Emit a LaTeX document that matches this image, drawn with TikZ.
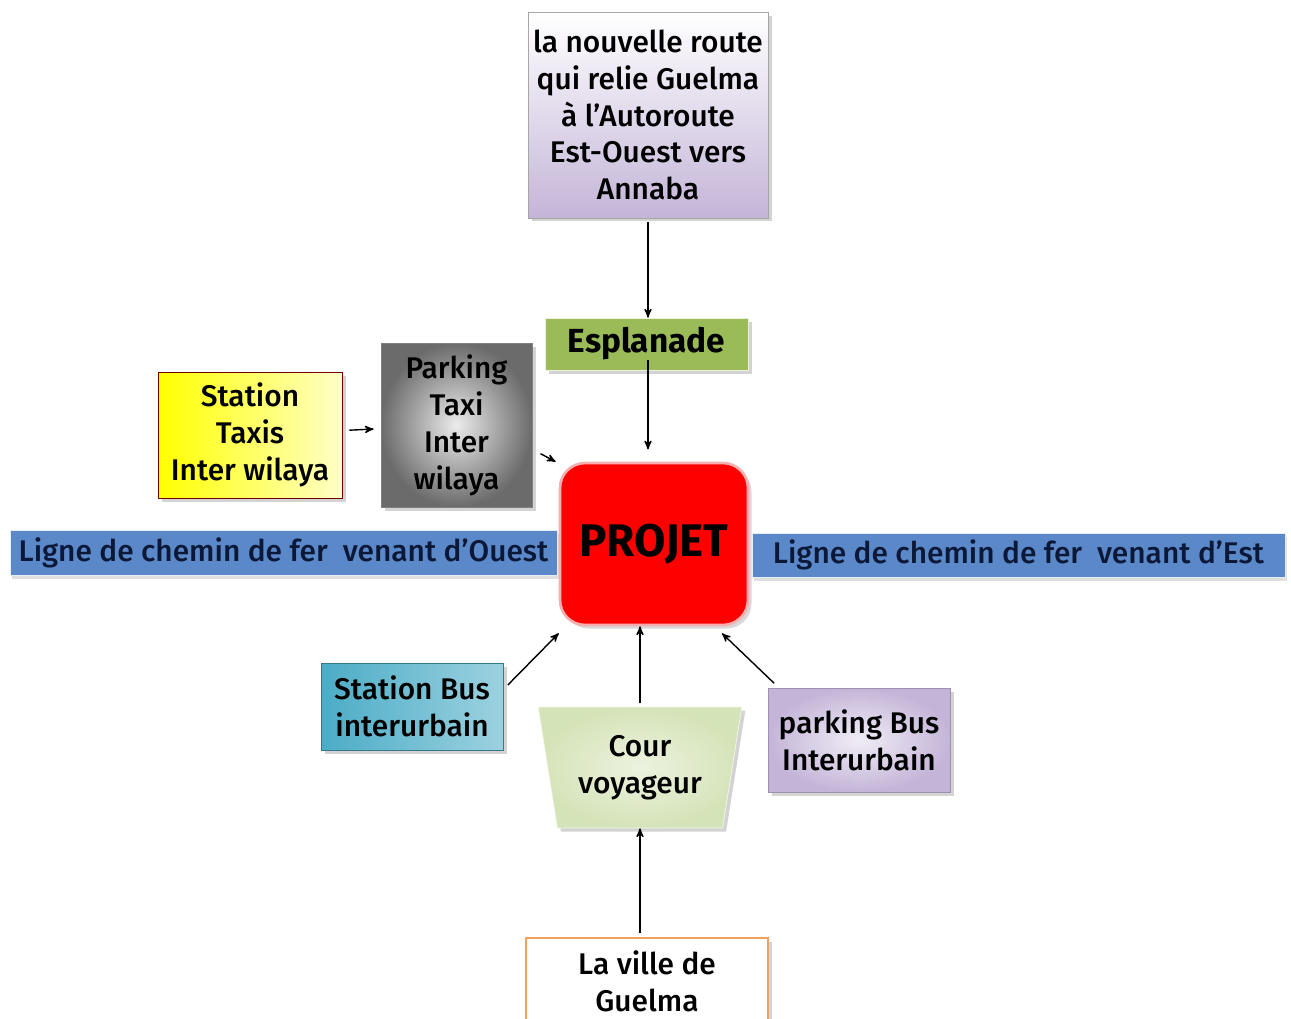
\documentclass[tikz,border=0pt]{standalone}
\usepackage{fontspec}
\setmainfont{Fira Sans}[UprightFont={Fira Sans Medium}, BoldFont={Fira Sans Bold}]
\usetikzlibrary{positioning, arrows, shapes.geometric, shadows}
\definecolor{lavande}{HTML}{C4B5D8}
\definecolor{railbleu}{HTML}{5A88C8}
\definecolor{railtexte}{HTML}{0C1838}
\definecolor{vertolive}{HTML}{9BBB59}
\definecolor{vertpale}{HTML}{D5E3B8}
\definecolor{turquoise}{HTML}{4BACC6}
\definecolor{orangebord}{HTML}{F0A060}
\definecolor{rosebord}{HTML}{F4B0B0}
\tikzset{
->, % every connector is directed
>=stealth', % small filled heads
box/.style={draw=gray!70, align=center, font=\fontsize{17}{21}\selectfont, inner sep=2pt,
  drop shadow={opacity=0.35, shadow xshift=2pt, shadow yshift=-2pt}}, % common look of the blocks
rail/.style={fill=railbleu, draw=white!85!railbleu, text=railtexte, font=\fontsize{17}{21}\selectfont,
  drop shadow={opacity=0.25, shadow xshift=1pt, shadow yshift=-2pt}}, % the two railway bands
link/.style={thick, shorten <=2pt}, % arrows between blocks
}
\begin{document}
\begin{tikzpicture}[x=0.02cm, y=-0.02cm]
\useasboundingbox (0,0) rectangle (1291,1018);

% railway bands behind the project
\node[rail, minimum width=10.94cm, minimum height=0.9cm] (ouest) at (283.5,552.5) {Ligne de chemin de fer~~venant d’Ouest};
\node[rail, minimum width=10.66cm, minimum height=0.88cm] (est) at (1018.5,555) {Ligne de chemin de fer~~venant d’Est};

\node[box, top color=white, bottom color=lavande, minimum width=4.8cm, minimum height=4.12cm] (route) at (648,115)
  {la nouvelle route\\qui relie Guelma\\à l’Autoroute\\Est-Ouest vers\\Annaba};
\node[box, draw=white!80!vertolive, fill=vertolive, font=\fontsize{19}{23}\selectfont\bfseries,
  minimum width=4.06cm, minimum height=1.04cm] (espl) at (646.5,344) {Esplanade};
\node[box, draw=red!45!black, left color=yellow, right color=yellow!22,
  minimum width=3.68cm, minimum height=2.52cm] (taxis) at (250,435) {Station\\Taxis\\Inter wilaya};
\node[box, draw=gray, inner color=white!85!gray, outer color=black!58, minimum width=3.02cm, minimum height=3.28cm] (ptaxi) at (456.5,425)
  {Parking\\Taxi\\Inter\\wilaya};
\node[draw=rosebord, line width=1.5pt, fill=red, rounded corners=0.5cm, minimum width=3.76cm, minimum height=3.24cm,
  font=\fontsize{26}{30}\selectfont\bfseries, drop shadow={opacity=0.3, shadow xshift=2pt, shadow yshift=-2pt}] (projet) at (654,544) {PROJET};

\node[box, draw=turquoise!70!black, left color=turquoise, right color=turquoise!55, minimum width=3.64cm, minimum height=1.74cm] (sbus) at (412,706.5)
  {Station Bus\\interurbain};
\node[box, draw=white!70!vertpale, trapezium, trapezium stretches=true, shape border rotate=180, trapezium angle=78,
  inner color=vertpale!45, outer color=vertpale, minimum width=4.08cm, minimum height=2.42cm] (cour) at (640,767.5) {Cour\\voyageur};
\node[box, draw=lavande!80!black, inner color=lavande!25, outer color=lavande, minimum width=3.64cm, minimum height=2.08cm] (pbus) at (859,740)
  {parking Bus\\Interurbain};
\node[box, draw=orangebord, line width=1.5pt, fill=white, minimum width=4.84cm, minimum height=1.72cm] (ville) at (647,981)
  {La ville de\\Guelma};

% flows towards the project
\draw[link] (route.south) -- (route.south |- espl.north);
\draw[link] ([yshift=8]espl.south -| route.south) -- ([yshift=7]route.south |- projet.north);
\draw[link, shorten <=4pt, shorten >=4pt] (taxis) -- (ptaxi);
\draw[link] ([shift={(5,27)}]ptaxi.east) -- ([shift={(-3,0)}]projet.north west);
\draw[link] ([shift={(2,-19)}]sbus.east) -- ([shift={(0,7)}]projet.south west);
\draw[link] (cour.north) -- (cour.north |- projet.south);
\draw[link] ([shift={(9,-2)}]pbus.north west) -- ([shift={(68,7)}]projet.south);
\draw[link] (cour.south |- ville.north) -- (cour.south);
\end{tikzpicture}
\end{document}
